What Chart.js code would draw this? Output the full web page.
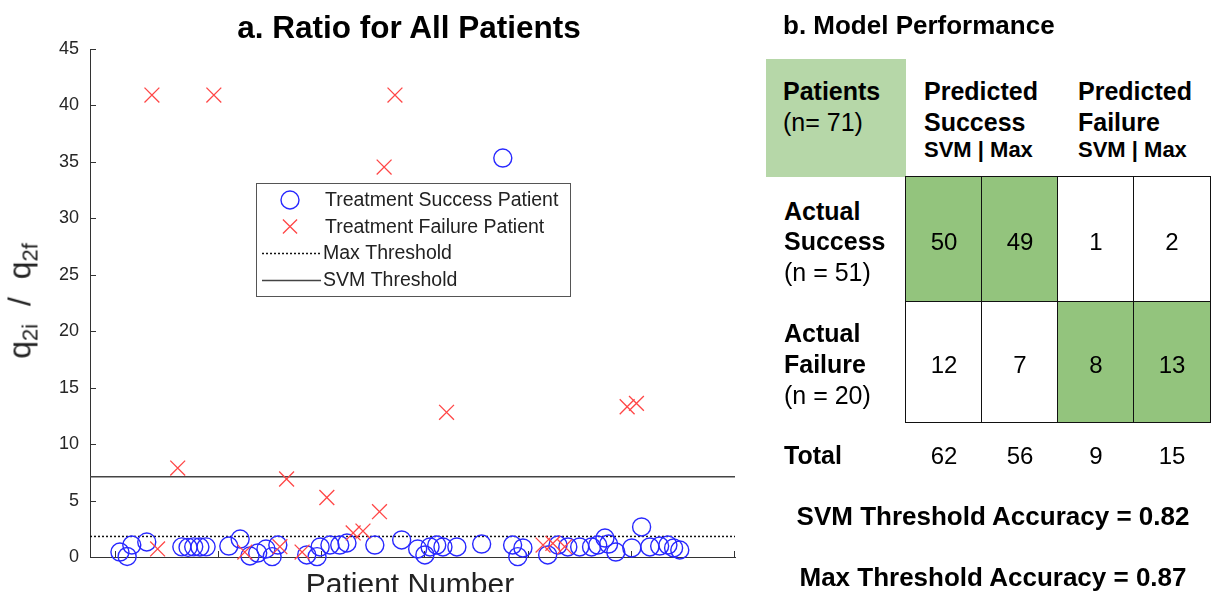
<!DOCTYPE html>
<html><head><meta charset="utf-8">
<script src="https://cdn.jsdelivr.net/npm/chart.js@4.4.0/dist/chart.umd.min.js"></script>
<style>
html,body{margin:0;padding:0;background:#fff;width:1212px;height:592px;overflow:hidden;font-family:"Liberation Sans",Arial,sans-serif;}
#wrap{position:relative;width:1212px;height:592px;overflow:hidden;}
#c{position:absolute;left:0;top:0;}
.t{position:absolute;white-space:nowrap;color:#000;}
.cell{position:absolute;box-sizing:border-box;border:1.5px solid #111;}
</style></head><body><div id="wrap"><canvas id="c" width="750" height="592"></canvas></div>
<script>
// ---------- data ----------
const successX = [20.8,22.2,23.1,26.0,32.8,34.0,35.1,36.3,37.5,41.9,44.1,46.0,47.5,49.1,50.3,51.4,57.0,59.0,59.6,61.5,63.4,64.8,70.2,75.4,78.5,79.9,80.9,82.2,83.4,86.1,90.9,95.0,96.9,97.9,98.9,103.7,105.7,107.6,109.9,112.2,113.4,114.8,115.5,116.9,120.0,121.9,123.5,125.4,127.0,128.1,129.3];
const successY = [0.44,0.05,1.06,1.33,0.9,0.85,0.9,0.88,0.9,0.97,1.59,0.09,0.35,0.71,0.03,1.06,0.18,0.03,0.89,1.06,1.06,1.24,1.06,1.51,0.71,0.18,0.89,1.06,0.89,0.89,1.15,35.34,1.06,0.03,0.80,0.18,1.06,0.89,0.89,0.89,1.06,1.68,1.15,0.44,0.80,2.66,0.89,0.97,1.06,0.80,0.62];
const failureX = [27.0,28.1,32.0,39.0,45.0,51.8,53.1,56.1,60.9,66.0,67.9,71.1,72.0,74.1,84.1,102.8,104.7,107.0,119.1,120.9];
const failureY = [40.92,0.71,7.88,40.92,0.44,0.91,6.91,0.44,5.27,2.13,2.30,4.01,34.54,40.92,12.82,1.06,1.21,0.91,13.31,13.61];
const maxThreshold = 1.82;
const svmThreshold = 7.1;
const xLimits = [15, 140];
const xTickValues = [20, 40, 60, 80, 100, 120, 140];
const yLimits = [0, 45];
const seriesLabels = ['Treatment Success Patient', 'Treatment Failure Patient', 'Max Threshold', 'SVM Threshold'];

// table data
const columnHeads = [['Predicted', 'Success'], ['Predicted', 'Failure']];
const subHead = 'SVM | Max';
const rowHeads = [['Actual', 'Success', '(n = 51)'], ['Actual', 'Failure', '(n = 20)']];
const cellValues = [[50, 49, 1, 2], [12, 7, 8, 13]];
const totals = [62, 56, 9, 15];
const accuracies = [['SVM Threshold Accuracy', '0.82'], ['Max Threshold Accuracy', '0.87']];

// ---------- chart ----------
const pts = (xs, ys) => xs.map((x, i) => ({x, y: ys[i]}));
const AX = '#333';

const tickPlugin = {
  id: 'inTicks',
  beforeDatasetsDraw(chart) {
    const {ctx, chartArea: a, scales: {x, y}} = chart;
    ctx.save();
    ctx.strokeStyle = AX; ctx.lineWidth = 1;
    y.ticks.forEach(t => {
      const py = Math.round(y.getPixelForValue(t.value)) + 0.5;
      ctx.beginPath(); ctx.moveTo(a.left, py); ctx.lineTo(a.left + 6, py); ctx.stroke();
    });
    xTickValues.forEach(v => {
      const px = Math.round(x.getPixelForValue(v)) - 0.5;
      ctx.beginPath(); ctx.moveTo(px, a.bottom); ctx.lineTo(px, a.bottom - 6); ctx.stroke();
    });
    ctx.restore();
  }
};

const legendPlugin = {
  id: 'boxLegend',
  afterDraw(chart) {
    const ctx = chart.ctx;
    const L = 256, T = 183, R = 570, B = 296;
    ctx.save();
    ctx.fillStyle = '#fff'; ctx.fillRect(L, T, R - L, B - T);
    ctx.strokeStyle = '#555'; ctx.lineWidth = 1; ctx.strokeRect(L + 0.5, T + 0.5, R - L, B - T);
    const rows = [200, 226.5, 253, 279.5];
    chart.data.datasets.forEach((ds, i) => {
      const y = rows[i];
      ctx.save();
      ctx.strokeStyle = ds.borderColor; ctx.fillStyle = 'rgba(0,0,0,0)';
      ctx.lineWidth = ds.borderWidth;
      if (ds.showLine) {
        ctx.setLineDash(ds.borderDash || []);
        ctx.beginPath(); ctx.moveTo(262, Math.round(y) + 0.5); ctx.lineTo(321, Math.round(y) + 0.5); ctx.stroke();
      } else {
        Chart.helpers.drawPoint(ctx, {pointStyle: ds.pointStyle, radius: ds.legendRadius, rotation: 0, borderWidth: ds.borderWidth}, 290, y);
      }
      ctx.restore();
      ctx.fillStyle = '#222';
      ctx.font = '19.5px "Liberation Sans", Arial, sans-serif';
      ctx.textBaseline = 'middle';
      ctx.fillText(ds.label, ds.showLine ? 323 : 325, y + 1);
    });
    ctx.restore();
  }
};

Chart.defaults.font.family = '"Liberation Sans", Arial, sans-serif';
new Chart(document.getElementById('c'), {
  type: 'scatter',
  data: {
    datasets: [
      {label: seriesLabels[0], data: pts(successX, successY), pointStyle: 'circle', pointRadius: 9, legendRadius: 9,
       borderColor: 'rgb(40,40,255)', backgroundColor: 'rgba(0,0,0,0)', borderWidth: 1.4, clip: false, order: 1},
      {label: seriesLabels[1], data: pts(failureX, failureY), pointStyle: 'crossRot', pointRadius: 10.5, legendRadius: 10,
       borderColor: 'rgb(255,70,70)', backgroundColor: 'rgba(0,0,0,0)', borderWidth: 1.3, clip: false, order: 0},
      {label: seriesLabels[2], data: [{x: xLimits[0], y: maxThreshold}, {x: xLimits[1], y: maxThreshold}], showLine: true,
       borderColor: '#111', borderWidth: 1.5, borderDash: [2, 2], pointRadius: 0, order: 2},
      {label: seriesLabels[3], data: [{x: xLimits[0], y: svmThreshold}, {x: xLimits[1], y: svmThreshold}], showLine: true,
       borderColor: '#444', borderWidth: 1.5, pointRadius: 0, order: 3}
    ]
  },
  options: {
    responsive: false, animation: false, devicePixelRatio: 1,
    layout: {padding: {left: 0, right: 15, top: 49, bottom: 35}},
    plugins: {legend: {display: false}, title: {display: false}, tooltip: {enabled: false}},
    scales: {
      x: {type: 'linear', min: xLimits[0], max: xLimits[1],
          grid: {display: false}, border: {display: true, color: AX, width: 1},
          ticks: {display: false}, afterFit: s => { s.height = 0; }},
      y: {type: 'linear', min: yLimits[0], max: yLimits[1],
          grid: {display: false}, border: {display: true, color: AX, width: 1},
          ticks: {stepSize: 5, padding: 3, color: '#262626', font: {size: 18}},
          afterFit: s => { s.width = 90; }}
    }
  },
  plugins: [tickPlugin, legendPlugin]
});

// ---------- text overlays ----------
const wrap = document.getElementById('wrap');
function place(html, x, cy, size, opts = {}) {
  const d = document.createElement('div');
  d.className = 't';
  d.innerHTML = html;
  const lh = Math.round(size * 1.2);
  d.style.fontSize = size + 'px';
  d.style.lineHeight = lh + 'px';
  d.style.top = (cy - lh / 2) + 'px';
  d.style.fontWeight = opts.bold ? 'bold' : 'normal';
  if (opts.color) d.style.color = opts.color;
  if (opts.center) { d.style.left = (x - 300) + 'px'; d.style.width = '600px'; d.style.textAlign = 'center'; }
  else d.style.left = x + 'px';
  wrap.appendChild(d);
  return d;
}
// left panel texts
place('a. Ratio for All Patients', 409, 27, 31.5, {bold: true, center: true});
place('Patient Number', 410, 584, 30, {center: true, color: '#222'});
const yl = document.createElement('div');
yl.className = 't';
yl.style.cssText = 'left:25px;top:301px;transform:translate(-50%,-50%) rotate(-90deg);font-size:32px;line-height:32px;color:#222;';
yl.innerHTML = 'q<sub style="font-size:22px;vertical-align:-7px">2i</sub>&nbsp;&nbsp;/&nbsp;&nbsp;q<sub style="font-size:22px;vertical-align:-7px">2f</sub>';
wrap.appendChild(yl);

// right panel
place('b. Model Performance', 783, 25, 26, {bold: true});
const hdr = document.createElement('div');
hdr.style.cssText = 'position:absolute;left:766px;top:59px;width:140px;height:118px;background:#b6d7a8;';
wrap.appendChild(hdr);
place('Patients', 783, 91, 25, {bold: true});
place('(n= 71)', 783, 122, 25);
const colLeft = [906, 982, 1058, 1134];
const colW = 76;
const rowTop = [177, 302];
const rowH = [125, 120];
const headX = [924, 1078];
columnHeads.forEach((h, i) => {
  place(h[0], headX[i], 91, 25, {bold: true});
  place(h[1], headX[i], 122, 25, {bold: true});
  place(subHead, headX[i], 150, 22, {bold: true});
});
cellValues.forEach((row, r) => {
  row.forEach((v, c) => {
    const cell = document.createElement('div');
    cell.className = 'cell';
    const correct = (r === 0 && c < 2) || (r === 1 && c >= 2);
    cell.style.left = (colLeft[c] - 1) + 'px';
    cell.style.top = (rowTop[r] - 1) + 'px';
    cell.style.width = (colW + 1.5) + 'px';
    cell.style.height = (rowH[r] + 1.5) + 'px';
    cell.style.background = correct ? '#93c47d' : '#fff';
    wrap.appendChild(cell);
    place(String(v), colLeft[c] + colW / 2, rowTop[r] + rowH[r] / 2 + 2, 24, {center: true});
  });
});
const rowLineY = [[211, 241, 272], [333, 364, 395]];
rowHeads.forEach((h, r) => {
  place(h[0], 784, rowLineY[r][0], 25, {bold: true});
  place(h[1], 784, rowLineY[r][1], 25, {bold: true});
  place(h[2], 784, rowLineY[r][2], 25);
});
place('Total', 784, 455, 25, {bold: true});
totals.forEach((v, c) => place(String(v), colLeft[c] + colW / 2, 455, 24, {center: true}));
accuracies.forEach((a, i) => place(a[0] + ' = ' + a[1], 993, i === 0 ? 516 : 577, 26, {bold: true, center: true}));
</script></body></html>
